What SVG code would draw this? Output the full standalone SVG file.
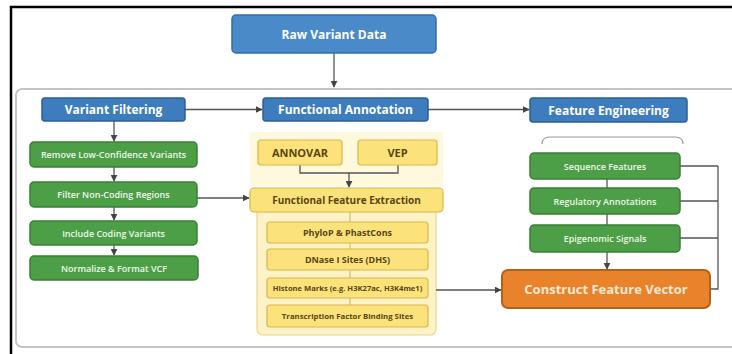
<svg xmlns="http://www.w3.org/2000/svg" width="732" height="354" viewBox="0 0 732 354">
<defs>
<marker id="ah" viewBox="0 0 10 10" refX="9" refY="5" markerWidth="7" markerHeight="7" markerUnits="userSpaceOnUse" orient="auto">
<path d="M0,0 L10,5 L0,10 z" fill="#444"/>
</marker>
<style>
.blue{fill:#3d7dbd;stroke:#2b5f96;stroke-width:1.5}
.raw{fill:#4a8ac9;stroke:#356da6;stroke-width:1.5}
.green{fill:#4c9f46;stroke:#3a7f35;stroke-width:1.5}
.yel{fill:#fbe27a;stroke:#d8b84c;stroke-width:1.2}
.orange{fill:#e8822b;stroke:#b4601c;stroke-width:2}
.ht{font-family:"Open Sans","Liberation Sans",sans-serif;font-weight:700;font-size:12px;fill:#ffffff;text-anchor:middle;dominant-baseline:central}
.gt{font-family:"Open Sans","Liberation Sans",sans-serif;font-weight:600;font-size:9px;fill:#eef7ea;text-anchor:middle;dominant-baseline:central}
.yt{font-family:"Open Sans","Liberation Sans",sans-serif;font-weight:700;fill:#5a4515;text-anchor:middle;dominant-baseline:central}
.ot{font-family:"Open Sans","Liberation Sans",sans-serif;font-weight:700;font-size:13px;fill:#fde9d4;text-anchor:middle;dominant-baseline:central}
.ln{fill:none;stroke:#555;stroke-width:1.3}
.lnl{fill:none;stroke:#c9b25a;stroke-width:1}
</style>
</defs>
<rect width="732" height="354" fill="#ffffff"/>
<path d="M11,354 V7 H732" fill="none" stroke="#000" stroke-width="2.5"/>
<rect x="16" y="89" width="730" height="258" rx="6" fill="#ffffff" stroke="#c4c4c4" stroke-width="2"/>
<rect x="250" y="132" width="193" height="54" fill="#fef8dc"/>
<rect x="257" y="206" width="179" height="129" rx="6" fill="#fdf3c6" stroke="#e9d88e" stroke-width="1.2"/>
<g id="connectors">
<line class="ln" x1="334" y1="53" x2="334" y2="87" marker-end="url(#ah)"/>
<line class="ln" x1="185" y1="109.5" x2="262" y2="109.5" marker-end="url(#ah)"/>
<line class="ln" x1="428" y1="109.5" x2="529" y2="109.5" marker-end="url(#ah)"/>
<line class="ln" x1="114" y1="121" x2="114" y2="141" marker-end="url(#ah)"/>
<line class="ln" x1="114" y1="167" x2="114" y2="181" marker-end="url(#ah)"/>
<line class="ln" x1="114" y1="207" x2="114" y2="220" marker-end="url(#ah)"/>
<line class="ln" x1="114" y1="245" x2="114" y2="255" marker-end="url(#ah)"/>
<line class="ln" x1="197" y1="198" x2="249" y2="198" marker-end="url(#ah)"/>
<path class="ln" d="M300,165 V173 H398 V165"/>
<line class="ln" x1="349" y1="173" x2="349" y2="187" marker-end="url(#ah)"/>
<line class="lnl" x1="350" y1="212" x2="350" y2="222"/>
<line class="lnl" x1="350" y1="243" x2="350" y2="249"/>
<line class="lnl" x1="350" y1="270" x2="350" y2="278"/>
<line class="lnl" x1="350" y1="298" x2="350" y2="305"/>
<line class="ln" x1="436" y1="290" x2="501" y2="290" marker-end="url(#ah)"/>
<path d="M542,144 Q542,137 550,137 H675 Q683,137 683,144" fill="none" stroke="#9a9a9a" stroke-width="1.2"/>
<line class="ln" x1="607" y1="179" x2="607" y2="188"/>
<line class="ln" x1="607" y1="214" x2="607" y2="225"/>
<line class="ln" x1="607" y1="252" x2="607" y2="269" marker-end="url(#ah)"/>
<path class="ln" d="M680,166 H718 M680,201 H718 M680,238 H718 M718,166 V289 H710"/>
</g>
<g id="raw"><rect class="raw" x="232" y="15" width="204" height="38" rx="4"/><text class="ht" x="334" y="34">Raw Variant Data</text></g>
<g id="variant-filtering"><rect class="blue" x="42" y="98" width="143" height="23" rx="3"/><text class="ht" x="113.5" y="109.5">Variant Filtering</text></g>
<g id="functional-annotation"><rect class="blue" x="263" y="98" width="165" height="23" rx="3"/><text class="ht" x="345.5" y="109.5">Functional Annotation</text></g>
<g id="feature-engineering"><rect class="blue" x="530" y="98" width="157" height="24" rx="3"/><text class="ht" x="608.5" y="110">Feature Engineering</text></g>
<g id="remove"><rect class="green" x="30" y="142" width="167" height="25" rx="4"/><text class="gt" x="113.5" y="154.5">Remove Low-Confidence Variants</text></g>
<g id="filter"><rect class="green" x="30" y="182" width="167" height="25" rx="4"/><text class="gt" x="113.5" y="194.5">Filter Non-Coding Regions</text></g>
<g id="include"><rect class="green" x="30" y="221" width="167" height="24" rx="4"/><text class="gt" x="113.5" y="233">Include Coding Variants</text></g>
<g id="normalize"><rect class="green" x="30" y="256" width="168" height="24" rx="4"/><text class="gt" x="114" y="268">Normalize &amp; Format VCF</text></g>
<g id="annovar"><rect class="yel" x="258" y="140" width="84" height="25" rx="3"/><text class="yt" x="300" y="152.5" font-size="11">ANNOVAR</text></g>
<g id="vep"><rect class="yel" x="358" y="140" width="79" height="25" rx="3"/><text class="yt" x="397.5" y="152.5" font-size="11">VEP</text></g>
<g id="ffe"><rect class="yel" x="250" y="188" width="193" height="24" rx="4"/><text class="yt" x="346.5" y="200" font-size="10">Functional Feature Extraction</text></g>
<g id="phylop"><rect class="yel" x="267" y="222" width="161" height="21" rx="3"/><text class="yt" x="347.5" y="232.5" font-size="9" font-weight="600">PhyloP &amp; PhastCons</text></g>
<g id="dnase"><rect class="yel" x="267" y="249" width="161" height="21" rx="3"/><text class="yt" x="347.5" y="259.5" font-size="9" font-weight="600">DNase I Sites (DHS)</text></g>
<g id="histone"><rect class="yel" x="267" y="278" width="161" height="20" rx="3"/><text class="yt" x="347.5" y="288" font-size="7.6" font-weight="600">Histone Marks (e.g. H3K27ac, H3K4me1)</text></g>
<g id="tfbs"><rect class="yel" x="267" y="305" width="161" height="22" rx="3"/><text class="yt" x="347.5" y="316" font-size="7.8" font-weight="600">Transcription Factor Binding Sites</text></g>
<g id="sequence"><rect class="green" x="530" y="153" width="150" height="26" rx="4"/><text class="gt" x="605" y="166" font-size="9.5">Sequence Features</text></g>
<g id="regulatory"><rect class="green" x="530" y="188" width="150" height="26" rx="4"/><text class="gt" x="605" y="201" font-size="9.5">Regulatory Annotations</text></g>
<g id="epigenomic"><rect class="green" x="530" y="225" width="150" height="27" rx="4"/><text class="gt" x="605" y="238.5" font-size="9.5">Epigenomic Signals</text></g>
<g id="construct"><rect class="orange" x="502" y="270" width="208" height="38" rx="6"/><text class="ot" x="606" y="289">Construct Feature Vector</text></g>
</svg>
